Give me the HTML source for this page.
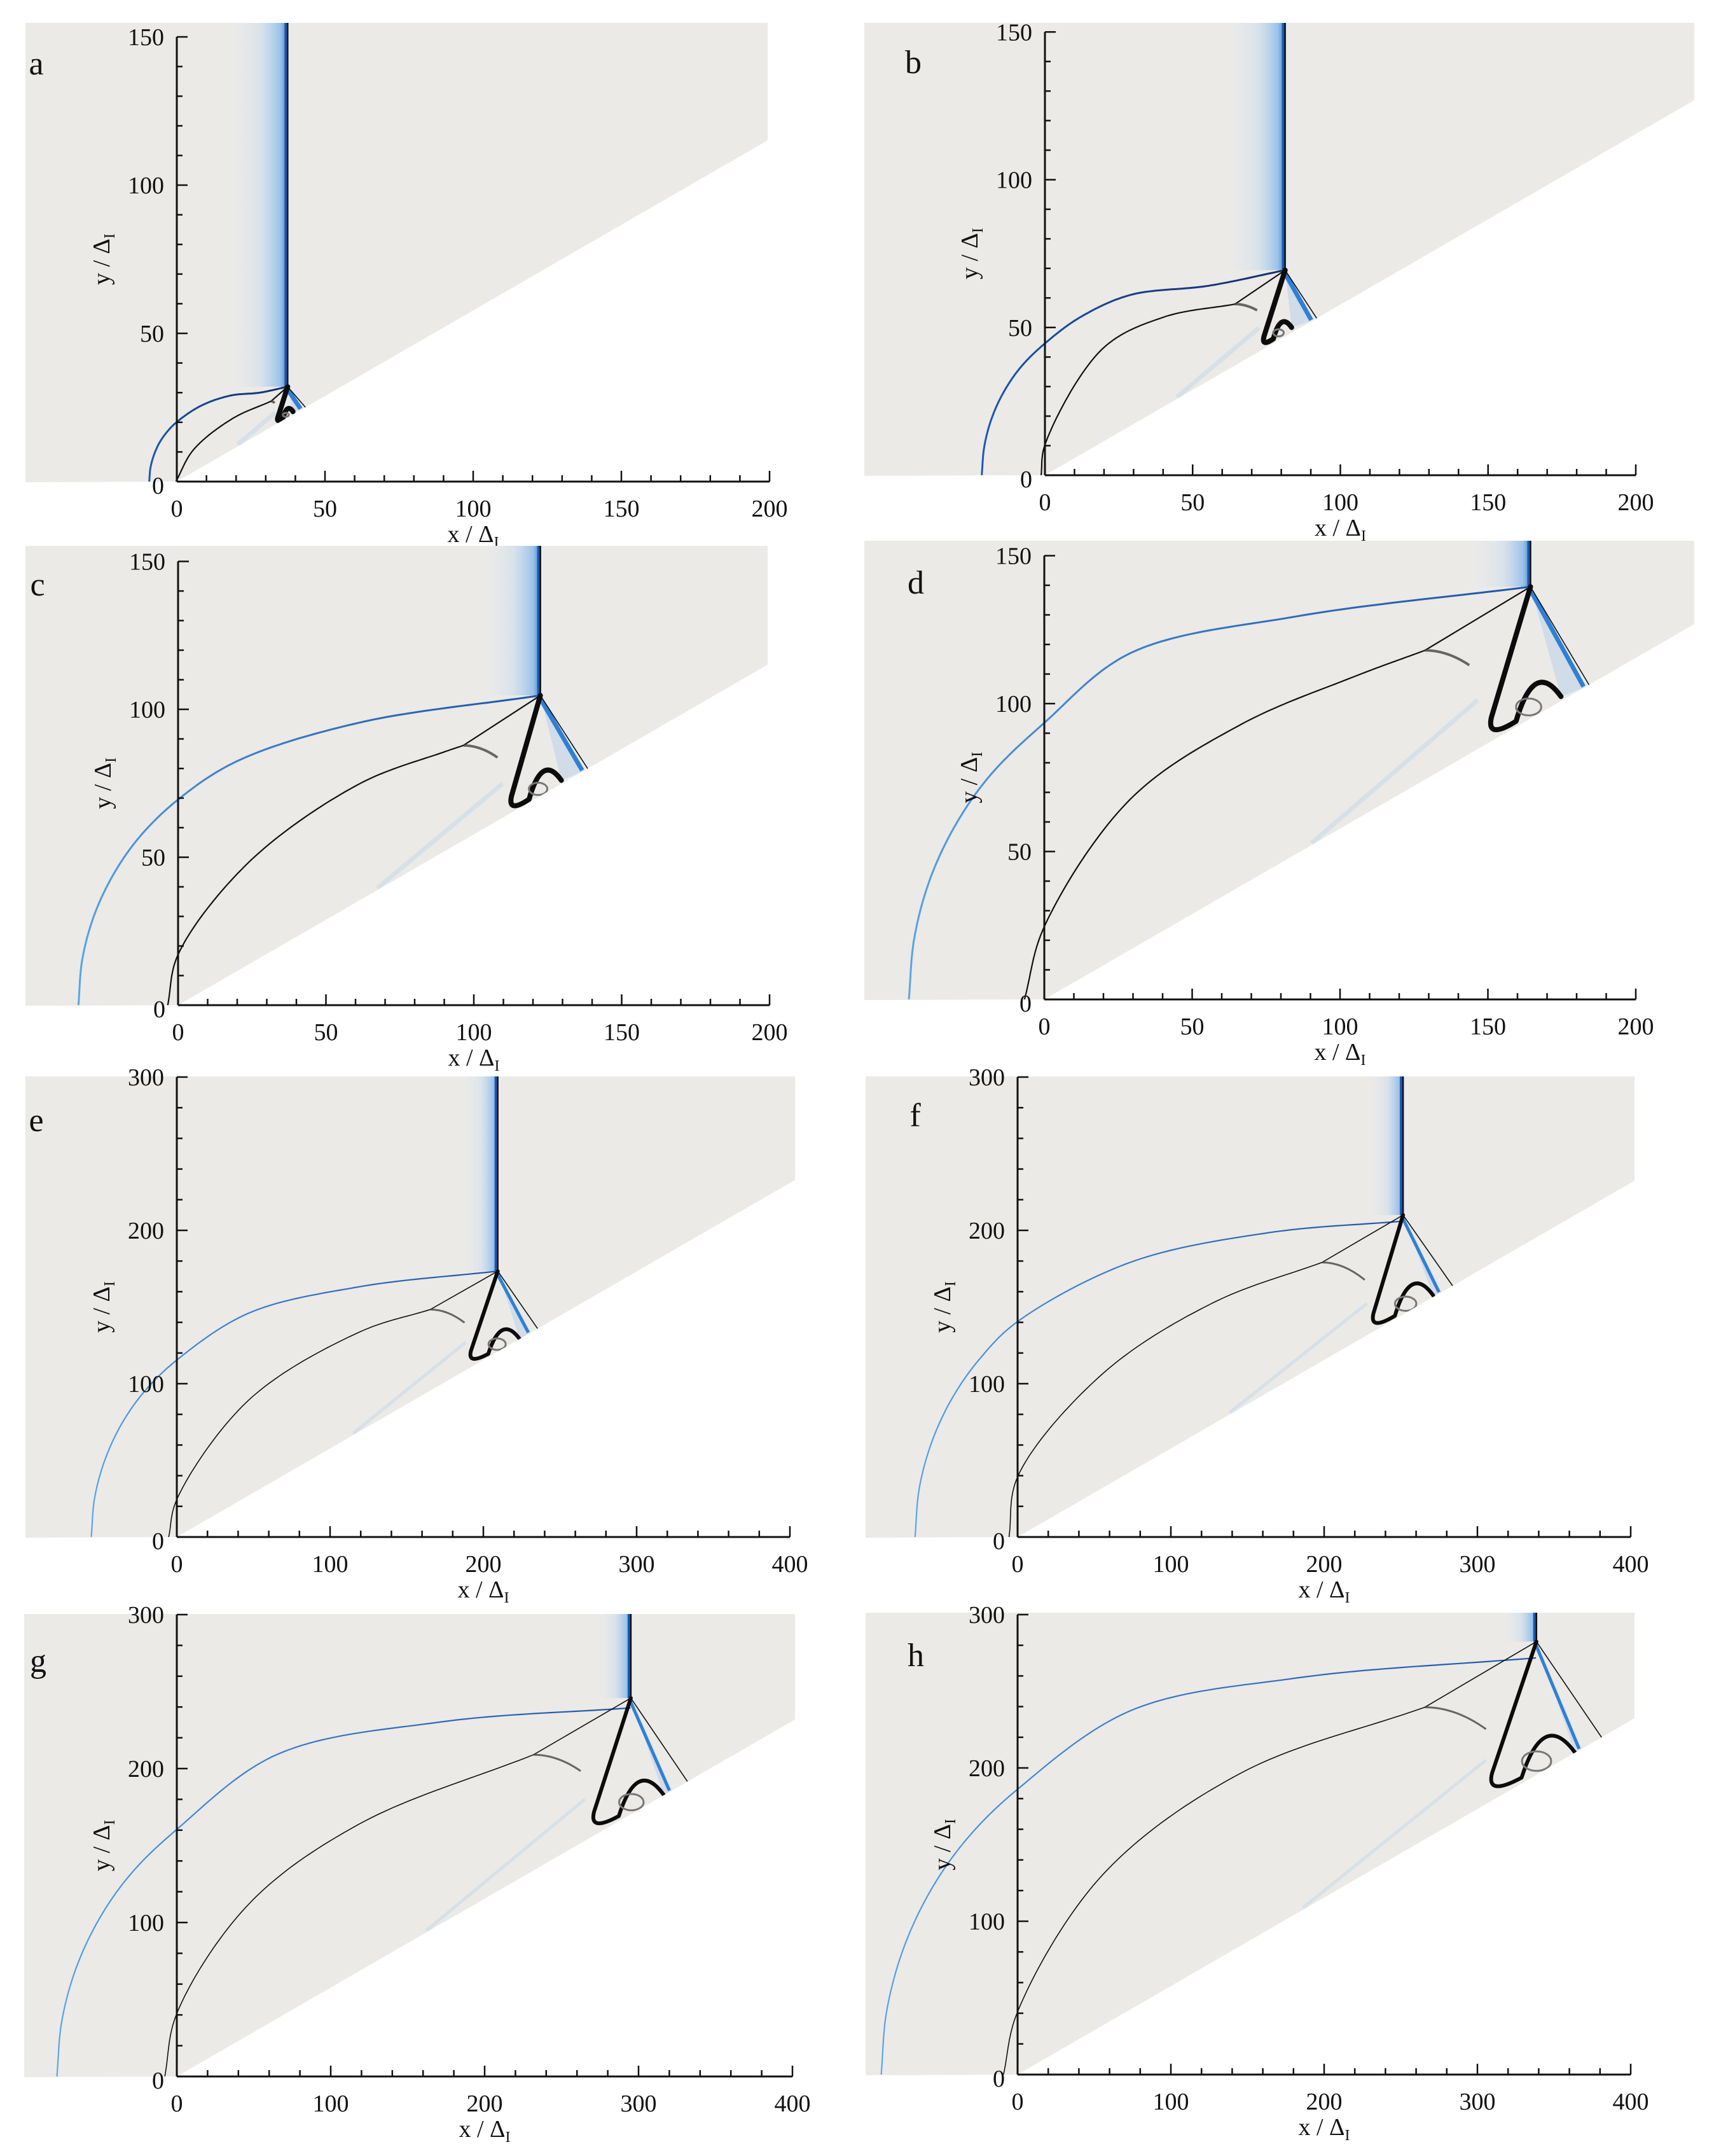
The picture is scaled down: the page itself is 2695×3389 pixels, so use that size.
<!DOCTYPE html>
<html><head><meta charset="utf-8"><style>
html,body{margin:0;padding:0;background:#fff;}
svg{display:block;}
text{font-family:"Liberation Serif",serif;fill:#111;}
</style></head><body>
<svg id="fig" xmlns="http://www.w3.org/2000/svg" width="2695" height="3389" viewBox="0 0 2695 3389">
<defs>
<linearGradient id="vband" x1="0" x2="1" y1="0" y2="0">
<stop offset="0" stop-color="#e4e9ef" stop-opacity="0"/>
<stop offset="0.55" stop-color="#cadcee" stop-opacity="0.55"/>
<stop offset="0.88" stop-color="#8dbbe8" stop-opacity="0.85"/>
<stop offset="1" stop-color="#3a84d6"/>
</linearGradient>
</defs>
</svg>
<script>
// ---- data (in x/ΔI, y/ΔI units) ----
const panelLetters = ['a','b','c','d','e','f','g','h'];
const tripleX = [37.4, 81.3, 122.5, 164.4, 209.4, 251.5, 295, 338.5];
const tripleY = [32, 69.4, 104.7, 139.5, 173.4, 210, 245.8, 282.4];
const blueShock = [
 [[-9.3,0],[-8.9,4.6],[-7.7,9],[-5.8,13.2],[-3.1,17],[0,20.1],[8,25.5],[18,29],[28,30],[37.4,32]],
 [[-21.4,0],[-20.5,9.9],[-17.9,19.6],[-13.7,28.6],[-8,36.8],[0,44.6],[12,53.5],[28.9,61],[55.3,64.1],[81.3,69.4]],
 [[-33.7,0],[-32.4,15.4],[-28.4,30.3],[-21.8,44.3],[-13,56.9],[0,69.5],[20,82.5],[61.3,95.5],[122.5,104.7]],
 [[-45.8,0],[-44,20.5],[-38.7,40.5],[-29.9,59.2],[-18.1,76],[0,93.5],[29,117],[85.4,129.5],[164.4,139.5]],
 [[-55.8,0],[-53.6,25.6],[-46.9,50.3],[-36.1,73.6],[-21.4,94.6],[0,115.4],[46.9,146],[119,163.2],[209.4,173.4]],
 [[-66.9,0],[-64.2,31.4],[-56,61.9],[-42.7,90.5],[-24.6,116.3],[0,140.5],[73.4,179.1],[164,198.5],[251.2,206]],
 [[-77.9,0],[-74.8,35.5],[-65.6,69.9],[-50.5,102.2],[-30.1,131.3],[0,160.5],[64.8,209],[172.6,230.4],[294.8,239.4]],
 [[-89,0],[-85.4,41.5],[-74.6,81.8],[-57,119.6],[-33.1,153.7],[0,186.1],[73.4,237.2],[182.3,258.7],[338.2,271.8]]
];
const machStem = [
 [[-0.3,0],[5.6,10.7],[18.7,21.2],[31.8,27.1]],
 [[-1.3,0],[0,10.3],[19.5,42.8],[40.2,53.5],[64.3,57.9]],
 [[-3.5,0],[0,17.1],[23.9,48.3],[61.3,74.8],[89.4,85.4],[96.5,87.8]],
 [[-6.7,0],[0,24.6],[29,67.6],[66.6,93],[104.2,108.9],[128.7,118]],
 [[-5.3,0],[0,24.5],[46.9,89.3],[119,133.6],[165.4,148.4]],
 [[-5.6,0],[0,39.2],[55.4,106.4],[127.8,152.9],[198.6,179.1]],
 [[-7.8,0],[0,40.9],[46.8,112],[118.6,164],[231.8,209]],
 [[-9.2,0],[0,41],[55.4,130.2],[146,196.8],[265.7,239.6]]
];
const kinkTailX = [33, 71.8, 108, 143.7, 187.7, 226.5, 262.4, 305.6];
const kinkTailY = [26.5, 55.8, 83.7, 113, 139.8, 167.7, 198.4, 225.3];
const vortexLowX = [33.6, 73.2, 111.4, 149.4, 189.5, 229.5, 267.8, 305.6];
const vortexLowY = [20.1, 44, 66, 89.4, 114.3, 137, 161.7, 184.9];
const curlEndX = [39.2, 83.5, 129.6, 174.7, 223.8, 271.2, 316.3, 363.7];
const curlEndY = [23.6, 50, 76, 102.4, 129, 157.5, 183, 210];
const reflectFootX = [42.6, 91, 137.5, 183.2, 231, 276.6, 321.7, 368];
const thinFootX = [43.4, 92, 138.5, 184.2, 235.4, 283.8, 331.8, 381];
const xTickLabelsSmall = ['0','50','100','150','200'];
const xTickLabelsLarge = ['0','100','200','300','400'];
const yTickLabelsSmall = ['0','50','100','150'];
const yTickLabelsLarge = ['0','100','200','300'];

// ---- layout ----
const layout = [
 {ox:278,oy:757,s:4.66,g0:40,g1:1207,top:36,big:false,lx:57,ly:101},
 {ox:1643,oy:747,s:4.645,g0:1359,g1:2664,top:36,big:false,lx:1436,ly:99},
 {ox:280,oy:1580,s:4.65,g0:40,g1:1207,top:858,big:false,lx:59,ly:920},
 {ox:1642,oy:1571,s:4.65,g0:1359,g1:2664,top:850,big:false,lx:1440,ly:917},
 {ox:278,oy:2416,s:2.41,g0:40,g1:1250,top:1692,big:true,lx:57,ly:1762},
 {ox:1600,oy:2416,s:2.41,g0:1361,g1:2570,top:1692,big:true,lx:1439,ly:1754},
 {ox:278,oy:3264,s:2.42,g0:38,g1:1250,top:2537,big:true,lx:60,ly:2612},
 {ox:1600,oy:3261,s:2.41,g0:1361,g1:2570,top:2535,big:true,lx:1440,ly:2603}
];
const NS='http://www.w3.org/2000/svg';
const svg=document.getElementById('fig');
const defs=svg.querySelector('defs');
const T30=Math.tan(Math.PI/6);
function mk(tag,attrs,parent){const e=document.createElementNS(NS,tag);for(const k in attrs)e.setAttribute(k,attrs[k]);(parent||svg).appendChild(e);return e;}
// centripetal Catmull-Rom sampled to polyline
function smooth(pts){
 const P=[[2*pts[0][0]-pts[1][0],2*pts[0][1]-pts[1][1]],...pts,[2*pts[pts.length-1][0]-pts[pts.length-2][0],2*pts[pts.length-1][1]-pts[pts.length-2][1]]];
 let d='M'+pts[0][0].toFixed(1)+','+pts[0][1].toFixed(1);
 const tj=(ti,a,b)=>ti+Math.pow(Math.hypot(b[0]-a[0],b[1]-a[1]),0.5)+1e-6;
 for(let i=1;i<P.length-2;i++){
  const p0=P[i-1],p1=P[i],p2=P[i+1],p3=P[i+2];
  const t0=0,t1=tj(t0,p0,p1),t2=tj(t1,p1,p2),t3=tj(t2,p2,p3);
  for(let k=1;k<=24;k++){
   const t=t1+(t2-t1)*k/24;
   const L=(a,b,ta,tb)=>[(tb-t)/(tb-ta)*a[0]+(t-ta)/(tb-ta)*b[0],(tb-t)/(tb-ta)*a[1]+(t-ta)/(tb-ta)*b[1]];
   const A1=L(p0,p1,t0,t1),A2=L(p1,p2,t1,t2),A3=L(p2,p3,t2,t3);
   const B1=L(A1,A2,t0,t2),B2=L(A2,A3,t1,t3);
   const C=L(B1,B2,t1,t2);
   d+=' L'+C[0].toFixed(1)+','+C[1].toFixed(1);
  }
 }
 return d;
}

layout.forEach((L,i)=>{
 const X=v=>L.ox+v*L.s, Y=v=>L.oy-v*L.s;
 const g=mk('g',{});
 
 
 const wy=L.oy-(L.g1-L.ox)*T30;
 const bg=mk('polygon',{points:`${L.g0},${L.top} ${L.g1},${L.top} ${L.g1},${wy} ${L.ox},${L.oy} ${L.g0},${L.oy+1}`,fill:'#ebeae7'},g);
 
 
 const clipId='clip'+i;
 const cp=mk('clipPath',{id:clipId},defs);
 mk('polygon',{points:`${L.g0},${L.top} ${L.g1},${L.top} ${L.g1},${wy} ${L.ox},${L.oy} ${L.g0},${L.oy+1}`},cp);
 const cg=mk('g',{'clip-path':`url(#${clipId})`},g);
 const tx=X(tripleX[i]), ty=Y(tripleY[i]);
 const W=L.big?55:95;
 const band=mk('rect',{x:tx-W,y:L.top,width:W,height:ty-L.top,fill:'url(#vband)'},cg);
 
 
 const vx=X(vortexLowX[i]),vy=Y(vortexLowY[i]);
 const ex=X(curlEndX[i]),ey=Y(curlEndY[i]);
 const fx=X(reflectFootX[i]),fy=Y(reflectFootX[i]*T30);
 const tfx=X(thinFootX[i]),tfy=Y(thinFootX[i]*T30);
 // faint streak
 const sx=X(tripleX[i]*0.55),sy=Y(tripleX[i]*0.55*T30);
 const streak=mk('line',{x1:sx,y1:sy-3,x2:(vx+X(kinkTailX[i]))/2,y2:(vy+Y(kinkTailY[i]))/2,stroke:'#b3cde8','stroke-width':L.big?5:7,opacity:0.35},cg);
 
 
 // reflected region
 const reg=mk('polygon',{points:`${tx},${ty} ${fx},${fy} ${ex},${ey} ${(tx+ex)/2},${(ty+ey)/2}`,fill:'#a8c9ea',opacity:0.4},cg);
 
 
 const rs=mk('line',{x1:tx-3,y1:ty,x2:fx-4,y2:fy,stroke:'#2f7fd6','stroke-width':L.big?5:7},cg);
 
 
 const rsb=mk('line',{x1:tx,y1:ty,x2:tfx,y2:tfy,stroke:'#111','stroke-width':1.6},cg);
 
 
 // vertical incident shock
 const vb=mk('line',{x1:tx-3,y1:L.top,x2:tx-3,y2:ty,stroke:'#1b56b0','stroke-width':4},cg);
 
 
 const vl=mk('line',{x1:tx,y1:L.top,x2:tx,y2:ty,stroke:'#111','stroke-width':2.5},cg);
 
 
 // blue shock
 const bp=blueShock[i].map(p=>[X(p[0]),Y(p[1])]);
 const gid='bg'+i;
 const lg=mk('linearGradient',{id:gid,gradientUnits:'userSpaceOnUse',x1:bp[0][0],y1:bp[0][1],x2:bp[bp.length-1][0],y2:bp[bp.length-1][1]},defs);
 mk('stop',{offset:'0','stop-color':i<2?'#1d5ab8':'#5aa6ea'},lg);
 mk('stop',{offset:'1','stop-color':i<2?'#162f70':'#1f55a8'},lg);
 const bs=mk('path',{d:smooth(bp),fill:'none',stroke:`url(#${gid})`,'stroke-width':L.big?2.2:3},cg);
 
 
 // black mach stem
 const mp=machStem[i].map(p=>[X(p[0]),Y(p[1])]);
 const kx=mp[mp.length-1][0],ky=mp[mp.length-1][1];
 const ms=mk('path',{d:smooth(mp)+` L${tx},${ty}`,fill:'none',stroke:'#111','stroke-width':L.big?1.6:2.2},cg);
 
 
 const kt=mk('path',{d:`M${kx},${ky} Q${(kx+X(kinkTailX[i]))/2},${ky} ${X(kinkTailX[i])},${Y(kinkTailY[i])}`,fill:'none',stroke:'#444','stroke-width':L.big?3:4,opacity:0.8},cg);
 
 
 // slip line / vortex
 const d=Math.hypot(ex-vx,ey-vy);
 const p1x=vx+0.12*(tx-vx),p1y=vy+0.12*(ty-vy);
 const m2x=vx+0.4*(ex-vx),m2y=vy+0.4*(ey-vy)+0.02*d;
 const topx=(m2x+ex)/2-0.05*d, topy=Math.min(m2y,ey)-0.45*d;
 const sl=mk('path',{d:`M${tx},${ty} L${p1x},${p1y} Q${vx},${vy+0.06*d} ${m2x},${m2y} Q${topx},${topy} ${ex},${ey}`,fill:'none',stroke:'#0c0c0c','stroke-width':L.big?6:8,'stroke-linecap':'round','stroke-linejoin':'round'},cg);
 
 
 const sp=mk('ellipse',{cx:m2x+0.28*(ex-m2x),cy:m2y-0.17*d,rx:0.15*d,ry:0.1*d,fill:'none',stroke:'#777','stroke-width':3},cg);
 
 

 // axes
 const xMax=L.big?400:200, yMax=L.big?300:150, xMaj=L.big?100:50, yMaj=L.big?100:50, mn=L.big?20:10;
 const ax=mk('g',{},g);
 
 
 mk('line',{x1:X(0),y1:Y(0),x2:X(xMax),y2:Y(0),stroke:'#111','stroke-width':3},ax);
 mk('line',{x1:X(0),y1:Y(0),x2:X(0),y2:Y(yMax),stroke:'#111','stroke-width':3},ax);
 for(let v=0;v<=xMax+0.01;v+=mn){const maj=Math.abs(v%xMaj)<0.01;mk('line',{x1:X(v),y1:Y(0),x2:X(v),y2:Y(0)-(maj?17:10),stroke:'#111','stroke-width':2.5},ax);}
 for(let v=0;v<=yMax+0.01;v+=mn){const maj=Math.abs(v%yMaj)<0.01;mk('line',{x1:X(0),y1:Y(v),x2:X(0)+(maj?17:9),y2:Y(v),stroke:'#111','stroke-width':2.5},ax);}
 const xl=L.big?xTickLabelsLarge:xTickLabelsSmall, yl=L.big?yTickLabelsLarge:yTickLabelsSmall;
 xl.forEach(t=>{const e=mk('text',{x:X(+t),y:Y(0)+55,'text-anchor':'middle','font-size':38},ax);e.textContent=t;
  });
 yl.forEach(t=>{const e=mk('text',{x:X(0)-20,y:Y(+t)+13+(t==='0'?6:0),'text-anchor':'end','font-size':38},ax);e.textContent=t;
  });
 const xt=mk('text',{x:X(xMax/2),y:Y(0)+95,'text-anchor':'middle','font-size':38},ax);
 
 
 xt.innerHTML='x / Δ<tspan font-size="24" dy="8">I</tspan>';
 const yx=X(0)-106, yy=Y(yMax/2);
 const yt=mk('text',{x:yx,y:yy,'text-anchor':'middle','font-size':38,transform:`rotate(-90 ${yx} ${yy})`},ax);
 
 
 yt.innerHTML='y / Δ<tspan font-size="24" dy="8">I</tspan>';
 const lt=mk('text',{x:L.lx,y:L.ly+16,'text-anchor':'middle','font-size':52},g);
 
 
 lt.textContent=panelLetters[i];
});
</script>
</body></html>
